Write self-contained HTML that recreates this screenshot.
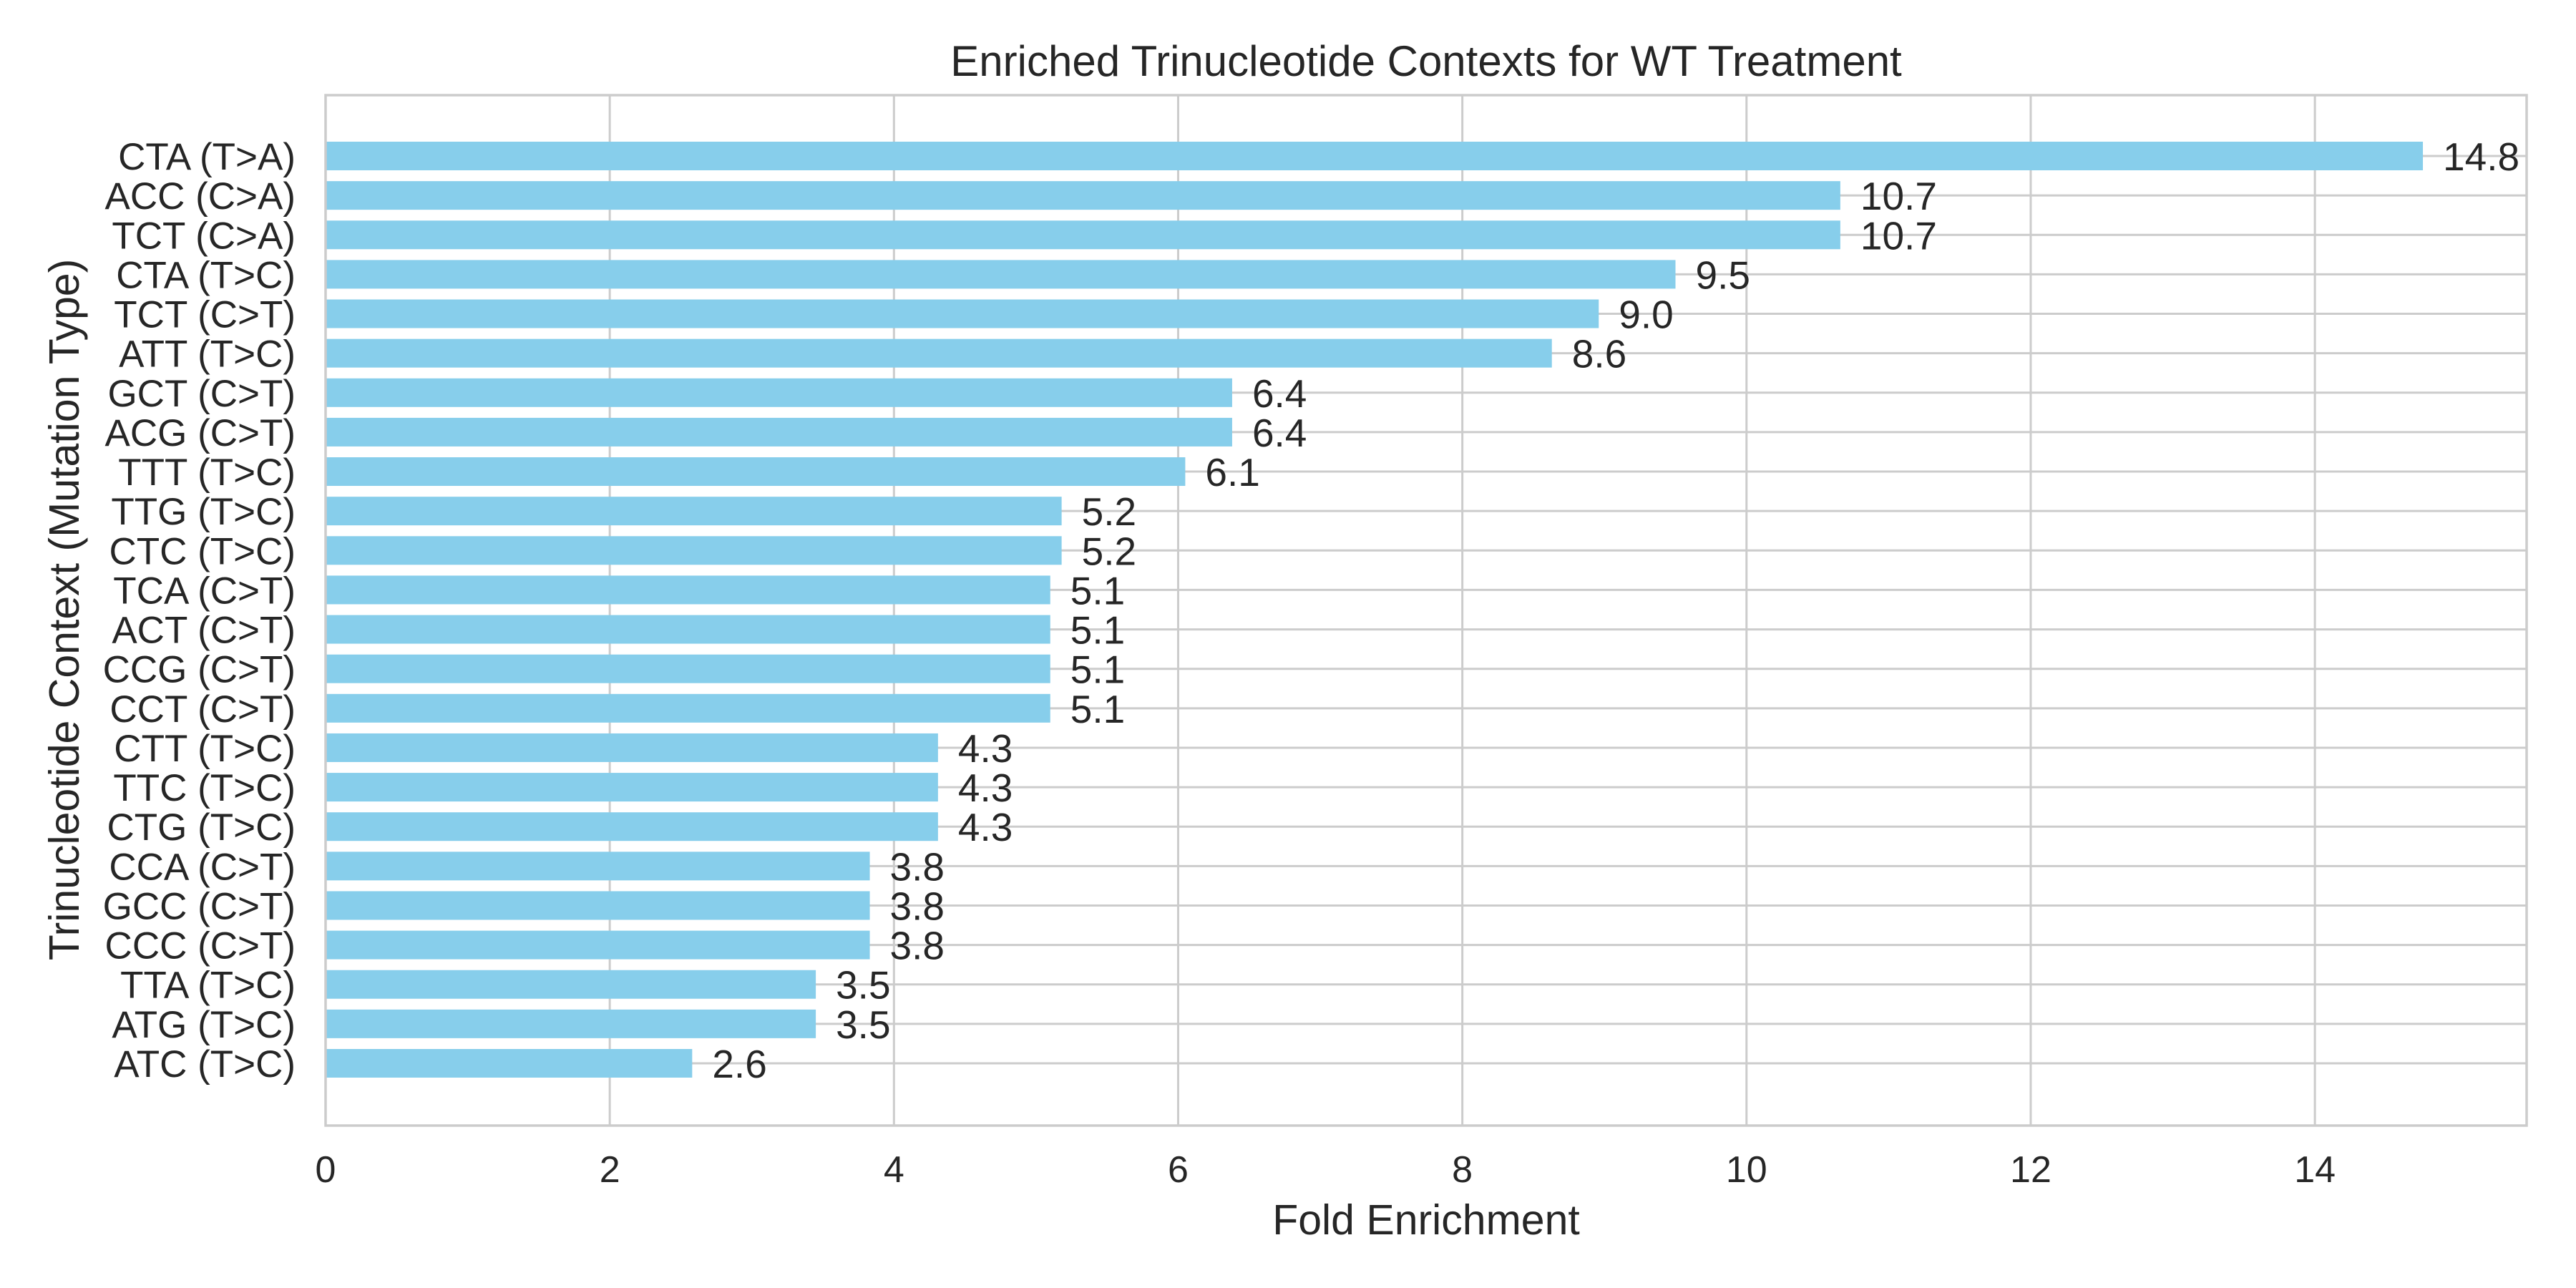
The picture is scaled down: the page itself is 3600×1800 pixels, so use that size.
<!DOCTYPE html>
<html><head><meta charset="utf-8"><style>
html,body{margin:0;padding:0;background:#fff;}
svg{display:block;font-family:"Liberation Sans",Arial,sans-serif;}
</style></head><body>
<svg id="chart" width="3600" height="1800" viewBox="0 0 3600 1800" xmlns="http://www.w3.org/2000/svg">
<rect x="0" y="0" width="3600" height="1800" fill="#fff"/>
<g id="grid"></g>
<g id="bars"></g>
<g id="labels"></g>
<rect x="455" y="133" width="3076" height="1440" fill="none" stroke="#cccccc" stroke-width="3.5"/>
<g id="yticks"></g>
<g id="xticks"></g>
<text x="1993" y="106" font-size="60" fill="#262626" text-anchor="middle">Enriched Trinucleotide Contexts for WT Treatment</text>
<text x="1993" y="1725" font-size="59" fill="#262626" text-anchor="middle">Fold Enrichment</text>
<text x="0" y="0" font-size="59" fill="#262626" text-anchor="middle" transform="translate(110,852) rotate(-90)">Trinucleotide Context (Mutation Type)</text>
</svg>
<script>
const categories = ["CTA (T>A)","ACC (C>A)","TCT (C>A)","CTA (T>C)","TCT (C>T)","ATT (T>C)","GCT (C>T)","ACG (C>T)","TTT (T>C)","TTG (T>C)","CTC (T>C)","TCA (C>T)","ACT (C>T)","CCG (C>T)","CCT (C>T)","CTT (T>C)","TTC (T>C)","CTG (T>C)","CCA (C>T)","GCC (C>T)","CCC (C>T)","TTA (T>C)","ATG (T>C)","ATC (T>C)"];
const values = [14.76,10.66,10.66,9.5,8.96,8.63,6.38,6.38,6.05,5.18,5.18,5.1,5.1,5.1,5.1,4.31,4.31,4.31,3.83,3.83,3.83,3.45,3.45,2.58];
const valueLabels = ["14.8","10.7","10.7","9.5","9.0","8.6","6.4","6.4","6.1","5.2","5.2","5.1","5.1","5.1","5.1","4.3","4.3","4.3","3.8","3.8","3.8","3.5","3.5","2.6"];
const xTicks = [0,2,4,6,8,10,12,14];

const NS = "http://www.w3.org/2000/svg";
const X0 = 455, X1 = 3531, XMAX = 15.49;
const Y0 = 133, Y1 = 1573;
const x = v => X0 + v / XMAX * (X1 - X0);
const firstC = 218, lastC = 1486;
const step = (lastC - firstC) / (categories.length - 1);
const y = i => firstC + i * step;
const barH = 40;
function mk(tag, attrs, parent) {
  const e = document.createElementNS(NS, tag);
  for (const k in attrs) e.setAttribute(k, attrs[k]);
  parent.appendChild(e);
  return e;
}
const grid = document.getElementById("grid");
const bars = document.getElementById("bars");
const labels = document.getElementById("labels");
const yticks = document.getElementById("yticks");
const xticksG = document.getElementById("xticks");

xTicks.forEach(t => {
  const l = mk("line", {x1: x(t), x2: x(t), y1: Y0, y2: Y1, stroke: "#cccccc", "stroke-width": 3}, grid);
  
  
  const tx = mk("text", {x: x(t), y: 1652, "font-size": 52, fill: "#262626", "text-anchor": "middle"}, xticksG);
  tx.textContent = t;
  
  
});
categories.forEach((c, i) => {
  const g = mk("line", {x1: X0, x2: X1, y1: y(i), y2: y(i), stroke: "#cccccc", "stroke-width": 3}, grid);
  
  
  const r = mk("rect", {x: X0, y: y(i) - barH / 2, width: x(values[i]) - X0, height: barH, fill: "#87ceeb"}, bars);
  
  
  const v = mk("text", {x: x(values[i]) + 28, y: y(i) + 20, "font-size": 55, fill: "#262626"}, labels);
  v.textContent = valueLabels[i];
  
  
  const t = mk("text", {x: 413, y: y(i) + 19, "font-size": 53, fill: "#262626", "text-anchor": "end"}, yticks);
  t.textContent = c;
  
  
});
</script>
</body></html>
